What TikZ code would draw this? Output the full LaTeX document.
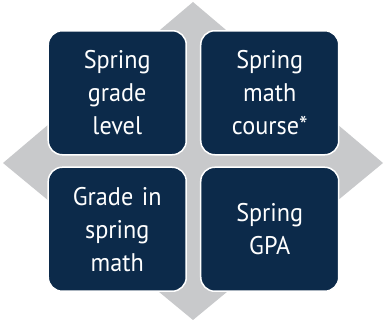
\documentclass[tikz,border=0pt]{standalone}
\usepackage{fontspec}
\setmainfont[FakeStretch=0.95,WordSpace=0.6]{PT Sans}
\usetikzlibrary{matrix}
\definecolor{navy}{RGB}{12,42,74}
\definecolor{diamondgrey}{RGB}{200,201,203}

\begin{document}
\begin{tikzpicture}[x=1pt,y=1pt]
  \useasboundingbox (0,0) rectangle (384,322);
  \fill[diamondgrey] (3,159) -- (193,320) -- (383,159) -- (193,2) -- cycle;
  \matrix (m) [matrix of nodes, row sep=11pt, column sep=13pt,
    nodes={fill=navy, draw=white, line width=1.5pt, rounded corners=14pt,
      minimum width=138pt, minimum height=124pt, text width=124pt,
      anchor=center, inner sep=0pt,
      align=center, text=white, font=\fontsize{25.5}{33}\selectfont}]
    at (193.5,161)
  {
 {Spring\\grade\\level} & {Spring\\math\\course*} \\
 {Grade in\\spring\\math} & {Spring\\GPA} \\ };
\end{tikzpicture}
\end{document}
